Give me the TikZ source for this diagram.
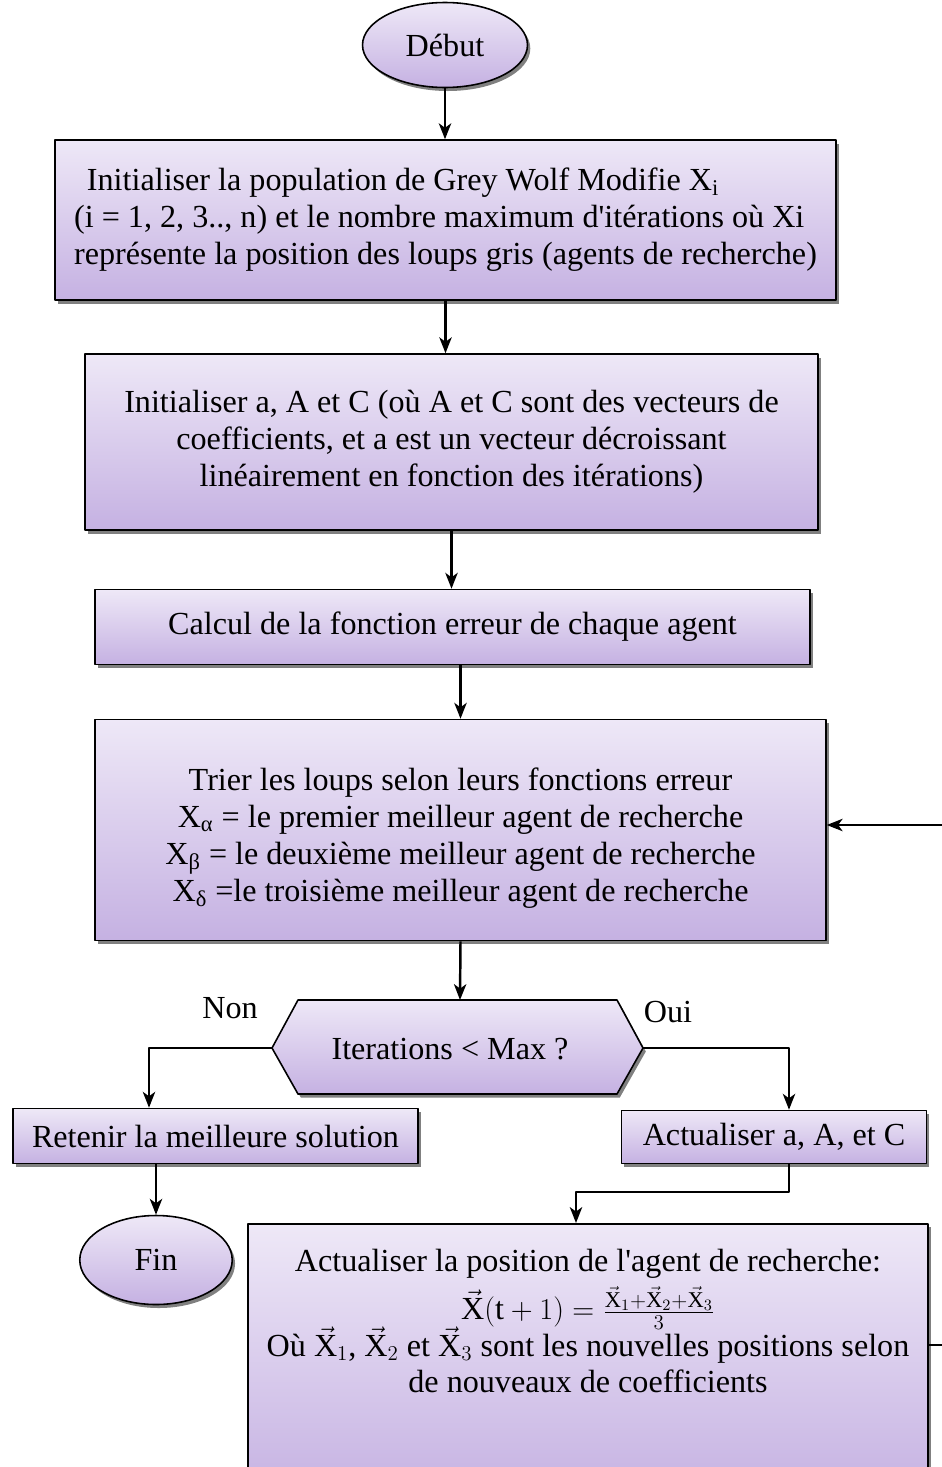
\documentclass[tikz,border=0pt]{standalone}
\usepackage{fontspec}
\setmainfont{Liberation Serif}
\usetikzlibrary{shapes.geometric,shadows,arrows.meta}
\definecolor{lavhaut}{HTML}{EEE8F7}
\definecolor{lavbas}{HTML}{C5B1E2}

\begin{document}
\begin{tikzpicture}[x=0.02cm, y=-0.02cm, line join=round, font=\fontsize{18.3}{21}\selectfont,
	>={Stealth[length=9pt,width=7pt,inset=2.5pt]},
	boite/.style={draw=black, line width=0.9pt, top color=lavhaut, bottom color=lavbas, align=center, inner sep=0pt,
		drop shadow={shadow xshift=1.6pt, shadow yshift=-2pt, fill=black!50, opacity=1}},
	ovale/.style={boite, ellipse},
	fleche/.style={->, line width=1.4pt}]
	\useasboundingbox (0,0) rectangle (942,1467);
	\clip (0,0) rectangle (942,1467);
	\node[ovale, minimum width=3.3cm, minimum height=1.7cm] (debut) at (445,45) {Début};
	\node[boite, align=left, minimum width=15.62cm, minimum height=3.2cm] (init) at (445.5,220)
		{\hspace{0.4em}Initialiser la population de Grey Wolf Modifie X\textsubscript{i}\\
		(i = 1, 2, 3.., n) et le nombre maximum d\textquotesingle itérations où Xi\\
		représente la position des loups gris (agents de recherche)};
	\node[boite, minimum width=14.66cm, minimum height=3.52cm] (coef) at (451.5,442)
		{Initialiser a, A et C (où A et C sont des vecteurs de\\
		coefficients, et a est un vecteur décroissant\\
		linéairement en fonction des itérations)};
	\node[boite, minimum width=14.3cm, minimum height=1.5cm] (calcul) at (452.5,627)
		{Calcul de la fonction erreur de chaque agent};
	\node[boite, minimum width=14.62cm, minimum height=4.42cm] (tri) at (460.5,830)
		{\rule{0pt}{1.2em}Trier les loups selon leurs fonctions erreur\\
		X\textsubscript{α} = le premier meilleur agent de recherche\\
		X\textsubscript{β} = le deuxième meilleur agent de recherche\\
		X\textsubscript{δ} =le troisième meilleur agent de recherche};
	\path[draw=black, line width=0.9pt, top color=lavhaut, bottom color=lavbas,
		drop shadow={shadow xshift=1.6pt, shadow yshift=-2pt, fill=black!50, opacity=1}]
		(272,1048) -- (298,1000) -- (617,1000) -- (643,1048) -- (617,1094) -- (298,1094) -- cycle;
	\coordinate (testN) at (460,1000);
	\coordinate (testW) at (272,1048);
	\coordinate (testE) at (643,1048);
	\node (test) at (450,1049) {Iterations < Max ?};
	\node (non) at (230,1008) {Non};
	\node (oui) at (668,1012) {Oui};
	\node[boite, minimum width=8.1cm, minimum height=1.1cm] (retenir) at (215.5,1136)
		{Retenir la meilleure solution};
	\node[ovale, minimum width=3.05cm, minimum height=1.78cm] (fin) at (156,1260) {Fin};
	\node[boite, minimum width=6.1cm, minimum height=1.06cm] (actual) at (774,1137)
		{Actualiser a, A, et C};
	\node[boite, anchor=north, minimum width=13.6cm, inner ysep=0.5cm] (pos) at (588,1223)
		{Actualiser la position de l\textquotesingle agent de recherche:\\[4pt]
		\(\vec{\mathrm{X}}(\mathrm{t}+1)=\frac{\vec{\mathrm{X}}_1+\vec{\mathrm{X}}_2+\vec{\mathrm{X}}_3}{3}\)\\[-3pt]
		Où \(\vec{\mathrm{X}}_1\), \(\vec{\mathrm{X}}_2\) et \(\vec{\mathrm{X}}_3\) sont les nouvelles positions selon\\
		de nouveaux de coefficients\\[0.9cm]\mbox{}};
	\coordinate (nonpt) at (149,1048);
	\coordinate (ouipt) at (789,1048);
	\coordinate (coude) at (576,1192);
	\coordinate (bordA) at (980,1345);
	\coordinate (bordB) at (980,825);
	\draw[fleche] (debut.south) -- (debut.south |- init.north);
	\draw[fleche] (init.south) -- (init.south |- coef.north);
	\draw[fleche] (coef.south) -- (coef.south |- calcul.north);
	\draw[fleche] (calcul.south -| tri.north) -- (tri.north);
	\draw[fleche] (tri.south) -- (testN);
	\draw[fleche] (testW) -- (nonpt) -- (nonpt |- retenir.north);
	\draw[fleche] (testE) -- (ouipt) -- (ouipt |- actual.north);
	\draw[fleche] (retenir.south -| fin.north) -- (fin.north);
	\draw[fleche] (actual.south -| ouipt) -- (ouipt |- coude) -- (coude) -- (coude |- pos.north);
	\draw[fleche] (pos.east |- bordA) -- (bordA) -- (bordB) -- (bordB -| tri.east);
\end{tikzpicture}
\end{document}
